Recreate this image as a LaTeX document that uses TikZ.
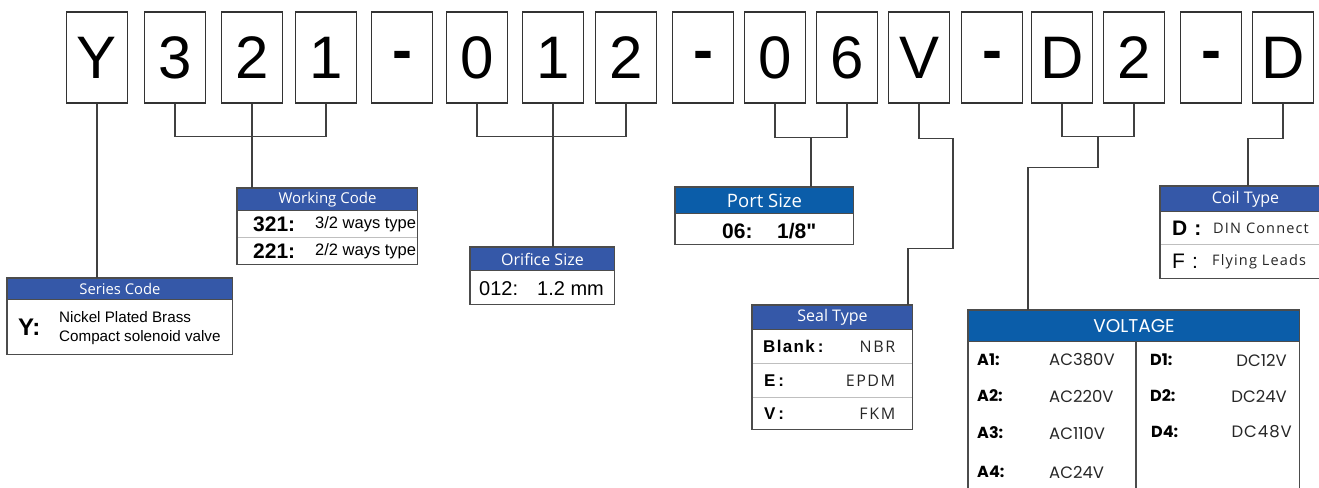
\documentclass[tikz,border=0pt]{standalone}
\usepackage{fontspec}
\setmainfont{Liberation Sans}
\newfontfamily\hdfont{Open Sans}
\newfontfamily\vtfont{Poppins}
\usetikzlibrary{calc,positioning}
\definecolor{hdblue}{HTML}{3558A8}
\definecolor{hddark}{HTML}{0B5DA9}
\newcommand{\codedash}{\raisebox{.12em}{\bfseries -}}

\begin{document}
\begin{tikzpicture}[x=1pt,y=-1pt,
		codebox/.style={draw=black!80,line width=1.4pt,minimum width=61pt,minimum height=91pt,inner sep=0pt,
			font=\fontsize{60}{60}\selectfont,execute at begin node=\vphantom{0}},
		conn/.style={draw=black!75,line width=1.1pt},
		hdr/.style={fill=#1,text=white,inner sep=0pt,anchor=north west,draw=black!70,line width=1pt},
		hdr/.default=hdblue,
		row/.style={inner sep=0pt,anchor=north west},
		frame/.style={draw=black!70,line width=1.2pt},
		sep/.style={draw=black!25,line width=1pt},
		txt/.style={inner sep=0pt,anchor=west},
		vlab/.style={txt,font=\vtfont\bfseries\fontsize{16}{16}\selectfont},
		vval/.style={txt,font=\vtfont\fontsize{16.5}{16.5}\selectfont,text=black!85},
		spaced/.style={inner sep=0pt,anchor=east,text=black!85,font=\hdfont\fontsize{16}{16}\selectfont\addfontfeatures{LetterSpace=10}}
	]
	\clip (0,0) rectangle (1319,487);
	% code letters
	\foreach \ch/\cx [count=\i] in {Y/97,3/175,2/252,1/326,{\codedash}/402,0/477,1/553,2/626,{\codedash}/703,
		0/775,6/847,V/919,{\codedash}/992,D/1062,2/1134,{\codedash}/1211,D/1283}
		\node[codebox] (c\i) at (\cx,57.5) {\ch};
	
	% series code
	\node[hdr,minimum width=225pt,minimum height=21pt,font=\hdfont\fontsize{14.8}{14.8}\selectfont] (serH) at (7,278) {Series Code};
	\node[row,minimum width=225pt,minimum height=54pt] (serB) at (serH.south west) {};
	\draw[frame] (serH.north west) rectangle (serB.south east);
	\node[txt,font=\bfseries\fontsize{24}{24}\selectfont] (serY) at ([xshift=11pt]serB.west) {Y:};
	\node[txt,font=\fontsize{15.2}{15.2}\selectfont] (serT1) at ([xshift=52pt,yshift=10pt]serB.west) {Nickel Plated Brass};
	\node[txt,font=\fontsize{15.2}{15.2}\selectfont] (serT2) at ([xshift=52pt,yshift=-10pt]serB.west) {Compact solenoid valve};
	
	% working code
	\node[hdr,minimum width=180pt,minimum height=22pt,font=\hdfont\fontsize{15}{15}\selectfont] (workH) at (237,188) {Working Code};
	\node[row,minimum width=180pt,minimum height=26pt] (workR1) at (workH.south west) {};
	\node[row,minimum width=180pt,minimum height=27pt] (workR2) at (workR1.south west) {};
	\draw[sep] (workR1.south west) -- (workR1.south east);
	\draw[frame] (workH.north west) rectangle (workR2.south east);
	\node[txt,font=\bfseries\fontsize{21}{21}\selectfont] (work321) at ([xshift=16pt]workR1.west) {321:};
	\node[txt,font=\fontsize{16.5}{16.5}\selectfont] (work321t) at ([xshift=78pt]workR1.west) {3/2 ways type};
	\node[txt,font=\bfseries\fontsize{21}{21}\selectfont] (work221) at ([xshift=16pt]workR2.west) {221:};
	\node[txt,font=\fontsize{16.5}{16.5}\selectfont] (work221t) at ([xshift=78pt]workR2.west) {2/2 ways type};
	
	% orifice size
	\node[hdr,minimum width=144pt,minimum height=23pt,font=\hdfont\fontsize{16}{16}\selectfont] (oriH) at (470,247) {Orifice Size};
	\node[row,minimum width=144pt,minimum height=33pt] (oriB) at (oriH.south west) {};
	\draw[frame] (oriH.north west) rectangle (oriB.south east);
	\node[txt,font=\fontsize{20}{20}\selectfont] (oriK) at ([xshift=9pt,yshift=-1pt]oriB.west) {012:};
	\node[txt,font=\fontsize{20}{20}\selectfont] (oriV) at ([xshift=67pt,yshift=-1pt]oriB.west) {1.2 mm};
	
	% port size
	\node[hdr=hddark,minimum width=178pt,minimum height=26pt,font=\hdfont\fontsize{18.5}{18.5}\selectfont] (portH) at (675,187) {Port Size};
	\node[row,minimum width=178pt,minimum height=30pt] (portB) at (portH.south west) {};
	\draw[frame] (portH.north west) rectangle (portB.south east);
	\node[txt,font=\bfseries\fontsize{21}{21}\selectfont] (portK) at ([xshift=47pt,yshift=-2pt]portB.west) {06:};
	\node[txt,font=\bfseries\fontsize{21}{21}\selectfont\addfontfeatures{Ligatures=TeXOff}] (portV) at ([xshift=102pt,yshift=-2pt]portB.west) {1/8"};
	
	% seal type
	\node[hdr,minimum width=160pt,minimum height=24pt,font=\hdfont\fontsize{16}{16}\selectfont] (sealH) at (752,305) {Seal Type};
	\node[row,minimum width=160pt,minimum height=33pt] (sealR1) at (sealH.south west) {};
	\node[row,minimum width=160pt,minimum height=34pt] (sealR2) at (sealR1.south west) {};
	\node[row,minimum width=160pt,minimum height=31pt] (sealR3) at (sealR2.south west) {};
	\draw[sep] (sealR1.south west) -- (sealR1.south east);
	\draw[sep] (sealR2.south west) -- (sealR2.south east);
	\draw[frame] (sealH.north west) rectangle (sealR3.south east);
	\node[txt,font=\bfseries\fontsize{17}{17}\selectfont\addfontfeatures{LetterSpace=8}] (sealBk) at ([xshift=11pt]sealR1.west) {Blank\,:};
	\node[spaced] (sealBkv) at ([xshift=-17pt]sealR1.east) {NBR};
	\node[txt,font=\bfseries\fontsize{17}{17}\selectfont] (sealE) at ([xshift=12pt]sealR2.west) {E\,:};
	\node[spaced] (sealEv) at ([xshift=-17pt]sealR2.east) {EPDM};
	\node[txt,font=\bfseries\fontsize{17}{17}\selectfont] (sealV) at ([xshift=12pt]sealR3.west) {V\,:};
	\node[spaced] (sealVv) at ([xshift=-17pt]sealR3.east) {FKM};
	
	% coil type
	\node[hdr,minimum width=170pt,minimum height=25pt,font=\hdfont\fontsize{16}{16}\selectfont] (coilH) at (1160,186) {Coil Type};
	\node[row,minimum width=170pt,minimum height=32pt] (coilR1) at (coilH.south west) {};
	\node[row,minimum width=170pt,minimum height=34pt] (coilR2) at (coilR1.south west) {};
	\draw[sep] (coilR1.south west) -- (coilR1.south east);
	\draw[frame] (coilH.north west) rectangle (coilR2.south east);
	\node[txt,font=\bfseries\fontsize{21}{21}\selectfont] (coilD) at ([xshift=12pt]coilR1.west) {D\,\,:};
	\node[txt,text=black!85,font=\hdfont\fontsize{14.5}{14.5}\selectfont\addfontfeatures{LetterSpace=8}] (coilDt) at ([xshift=53pt]coilR1.west) {DIN Connect};
	\node[txt,font=\fontsize{21}{21}\selectfont] (coilF) at ([xshift=12pt]coilR2.west) {F\,\,:};
	\node[txt,text=black!85,font=\hdfont\fontsize{14.5}{14.5}\selectfont\addfontfeatures{LetterSpace=8}] (coilFt) at ([xshift=52pt]coilR2.west) {Flying Leads};
	
	% voltage
	\node[hdr=hddark,minimum width=331pt,minimum height=31pt,font=\vtfont\fontsize{18.5}{18.5}\selectfont] (voltH) at (968,310) {VOLTAGE};
	\node[row,minimum width=331pt,minimum height=160pt] (voltB) at (voltH.south west) {};
	\draw[frame] (voltH.north west) rectangle (voltB.south east);
	\draw[frame] ([xshift=168pt]voltB.north west) -- ([xshift=168pt]voltB.south west);
	\foreach \lab/\val/\yy in {A1/AC380V/360,A2/AC220V/396,A3/AC110V/433,A4/AC24V/472}{
		\node[vlab] (v\lab) at (977,\yy) {\lab:};
		\node[vval] (v\lab v) at (1049,\yy) {\val};
	}
	\foreach \lab/\val/\yy in {D1/DC12V/360,D2/DC24V/396}{
		\node[vlab] (v\lab) at (1150,\yy) {\lab:};
		\node[vval,anchor=east] (v\lab v) at (1287,\yy) {\val};
	}
	\node[vlab] (vD4) at (1151,432) {D4:};
	\node[vval,anchor=east,font=\vtfont\fontsize{16.5}{16.5}\selectfont\addfontfeatures{LetterSpace=6}] (vD4v) at (1292,432) {DC48V};
	
	% connectors
	\draw[conn] (c1.south) -- (c1.south |- serH.north);
	\draw[conn] (c2.south) -- ++(0,33) -| (c4.south);
	\draw[conn] (c3.south) -- (c3.south |- workH.north);
	\draw[conn] (c6.south) -- ++(0,33) -| (c8.south);
	\draw[conn] (c7.south) -- (c7.south |- oriH.north);
	\draw[conn] (c10.south) -- ++(0,34) -| (c11.south);
	\coordinate (portM) at ($(c10.south)!.5!(c11.south)+(0,34)$);
	\draw[conn] (portM) -- (portM |- portH.north);
	\draw[conn] (c12.south) -- ++(0,35) -- ++(34,0) -- ++(0,110) -| ([xshift=-5pt]sealH.north east);
	\draw[conn] (c14.south) -- ++(0,33) -| (c15.south);
	\coordinate (voltM) at ($(c14.south)!.5!(c15.south)+(0,33)$);
	\draw[conn] (voltM) -- ++(0,31) -| ([xshift=60pt]voltH.north west);
	\draw[conn] (c17.south) -- ++(0,35) -| ([xshift=88pt]coilH.north west);
\end{tikzpicture}
\end{document}
